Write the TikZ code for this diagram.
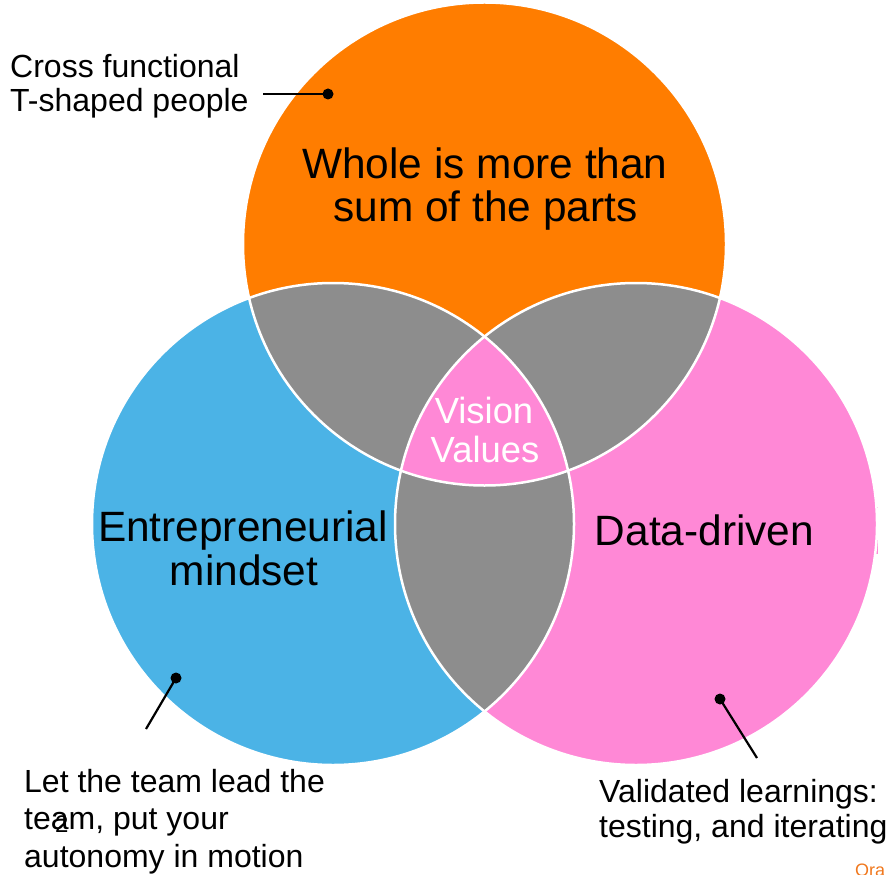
\documentclass[tikz,border=0pt]{standalone}
\usepackage{fontspec}
\setmainfont{Liberation Sans}
\definecolor{orangeC}{RGB}{255,125,0}
\definecolor{blueC}{RGB}{75,179,230}
\definecolor{pinkC}{RGB}{255,136,214}
\definecolor{grayC}{RGB}{141,141,141}
\definecolor{slideorange}{RGB}{240,120,30}
\begin{document}
\begin{tikzpicture}[x=1pt,y=-1pt,
  bigtext/.style={font=\fontsize{42.4}{48}\selectfont, anchor=base, inner sep=0pt},
  midtext/.style={font=\fontsize{36.4}{40}\selectfont, text=white, anchor=base, inner sep=0pt},
  smalltext/.style={font=\fontsize{32}{36}\selectfont, anchor=base west, inner sep=0pt},
  leaderdot/.style={circle, fill=black, inner sep=0pt, minimum size=11pt},
  leader/.style={draw=black, line width=2.2pt},
  rim/.style={draw=white, line width=2.5pt}]
\useasboundingbox (0,0) rectangle (890,874);
% circles
\fill[orangeC] (484.5,244) circle[radius=241.5];
\fill[blueC] (333,524) circle[radius=241];
\fill[pinkC] (636,524) circle[radius=241];
\fill[pinkC] (868,507) rectangle (878,554);
% pairwise overlaps
\begin{scope}
  \clip (484.5,244) circle[radius=241.5];
  \fill[grayC] (333,524) circle[radius=241];
  \fill[grayC] (636,524) circle[radius=241];
\end{scope}
\begin{scope}
  \clip (333,524) circle[radius=241];
  \fill[grayC] (636,524) circle[radius=241];
\end{scope}
% triple overlap
\begin{scope}
  \clip (484.5,244) circle[radius=241.5];
  \clip (333,524) circle[radius=241];
  \fill[pinkC] (636,524) circle[radius=241];
\end{scope}
% white rims
\draw[rim] (484.5,244) circle[radius=241.5];
\draw[rim] (333,524) circle[radius=241];
\draw[rim] (636,524) circle[radius=241];
% main texts
\node[bigtext] (whole1) at (485,179) {Whole is more than};
\node[bigtext] (whole2) at (485.5,222) {sum of the parts};
\node[bigtext] (entre1) at (243,541) {Entrepreneurial};
\node[bigtext] (entre2) at (244,585) {mindset};
\node[bigtext] (data) at (704.5,545) {Data-driven};
\node[midtext] (vision) at (484,423) {Vision};
\node[midtext] (values) at (485,462) {Values};
% side labels
\node[smalltext] (cross1) at (10,78) {Cross functional};
\node[smalltext] (cross2) at (10,112) {T-shaped people};
\node[smalltext] (let1) at (24,792) {Let the team lead the};
\node[smalltext] (let2) at (24,829.5) {team, put your};
\node[smalltext] (let3) at (24,867) {autonomy in motion};
\node[smalltext] (valid1) at (599,802) {Validated learnings:};
\node[smalltext] (valid2) at (599,837) {testing, and iterating};
\node[font=\fontsize{24}{28}\selectfont, anchor=base west, inner sep=0pt] (slidenum) at (55,832) {2};
\node[font=\fontsize{18}{22}\selectfont, text=slideorange, anchor=base west, inner sep=0pt] (ora) at (855,876) {Ora};
% leaders
\node[leaderdot] (dotA) at (328,94) {};
\coordinate (endA) at (263,94);
\draw[leader] (endA) -- (dotA.center);
\node[leaderdot] (dotB) at (176,678) {};
\coordinate (endB) at (146,729);
\draw[leader] (endB) -- (dotB.center);
\node[leaderdot] (dotC) at (720,699) {};
\coordinate (endC) at (757,758);
\draw[leader] (endC) -- (dotC.center);
\end{tikzpicture}
\end{document}
